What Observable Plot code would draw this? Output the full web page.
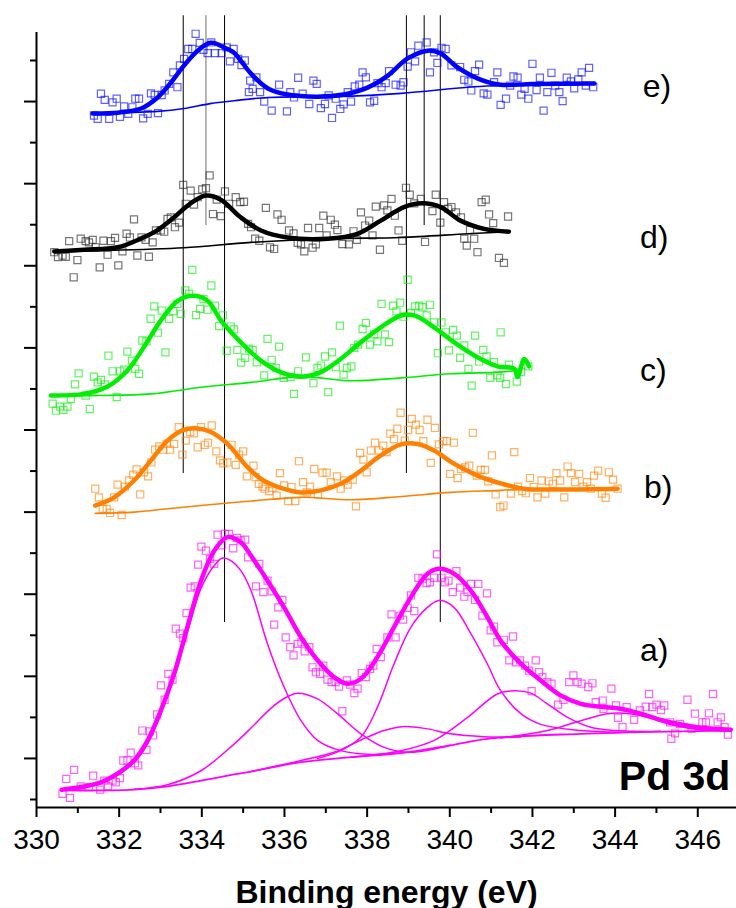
<!DOCTYPE html>
<html><head><meta charset="utf-8">
<script src="https://cdn.jsdelivr.net/npm/d3@7"></script>
<script src="https://cdn.jsdelivr.net/npm/@observablehq/plot@0.6"></script>
<style>html,body{margin:0;padding:0;background:#fff;}#chart{width:736px;height:908px;}</style>
</head><body><div id="chart"></div>
<script>
// ---------- axis ticks ----------
const xMajorTicks = [330, 332, 334, 336, 338, 340, 342, 344, 346];
const xMinorTicks = [331, 333, 335, 337, 339, 341, 343, 345];
const yMajorTicks = [1, 3, 5, 7, 9, 11, 13, 15, 17];
const yMinorTicks = [0, 2, 4, 6, 8, 10, 12, 14, 16, 18];

// ---------- peak reference lines (binding energy, lower end in intensity units) ----------
const peakEnergies = [333.55, 334.1, 334.55, 338.95, 339.38, 339.77];
const peakLineBottoms = [7.94, 13.98, 4.31, 7.94, 13.98, 4.31];
const peakLineTop = 19.09;

// ---------- series labels ----------
const seriesNames = ["a)", "b)", "c)", "d)", "e)"];
const labelEnergies = [344.6, 344.7, 344.6, 344.6, 344.67];
const labelLevels = [3.63, 7.6, 10.45, 13.69, 17.37];

// ---------- series e ----------
const ePoints = [[331.39,16.66],[331.48,16.58],[331.56,17.19],[331.65,17.04],[331.76,16.58],[331.84,16.98],[331.94,17.07],[332.02,16.63],[332.12,16.88],[332.22,16.70],[332.32,16.86],[332.39,17.07],[332.48,17.07],[332.58,16.59],[332.69,16.70],[332.77,17.20],[332.86,17.16],[332.94,16.72],[333.03,17.16],[333.10,17.27],[333.21,17.43],[333.31,17.71],[333.41,17.35],[333.47,17.88],[333.57,18.04],[333.67,18.28],[333.77,18.28],[333.85,18.65],[333.95,18.43],[334.04,18.26],[334.14,18.18],[334.23,18.44],[334.32,18.18],[334.48,18.18],[334.60,18.32],[334.68,17.98],[334.77,18.28],[334.88,18.04],[334.96,17.89],[335.04,18.00],[335.14,17.23],[335.17,17.51],[335.23,17.31],[335.32,17.59],[335.41,17.23],[335.51,17.00],[335.69,16.78],[335.87,17.41],[336.06,16.76],[336.14,17.23],[336.23,17.10],[336.33,17.58],[336.44,17.19],[336.60,16.94],[336.70,17.51],[336.78,17.43],[336.88,16.84],[336.98,16.94],[337.07,17.15],[337.15,16.60],[337.24,17.07],[337.35,16.82],[337.43,16.93],[337.53,17.23],[337.61,17.00],[337.70,17.37],[337.81,17.41],[337.89,17.71],[337.97,17.59],[338.07,16.98],[338.17,17.02],[338.25,17.45],[338.35,17.35],[338.45,17.45],[338.53,17.74],[338.69,17.41],[338.81,17.39],[338.88,17.47],[338.98,17.85],[339.06,18.20],[339.16,17.98],[339.24,18.36],[339.44,18.44],[339.52,17.71],[339.62,18.20],[339.70,17.94],[339.80,18.31],[339.90,18.28],[340.04,17.88],[340.25,17.84],[340.35,17.53],[340.45,17.49],[340.52,17.27],[340.61,17.74],[340.71,17.90],[340.82,17.20],[340.91,17.17],[341.07,17.47],[341.15,17.71],[341.23,16.92],[341.36,17.07],[341.46,17.39],[341.54,17.61],[341.64,17.58],[341.73,17.17],[341.81,17.31],[341.90,17.07],[342.00,17.92],[342.10,17.28],[342.18,17.58],[342.27,16.78],[342.36,17.23],[342.46,17.70],[342.55,17.39],[342.65,17.23],[342.73,17.01],[342.83,17.58],[342.93,17.49],[343.01,17.32],[343.11,17.54],[343.19,17.71],[343.29,17.39],[343.37,17.82],[343.47,17.35]];
const eFit = [[331.36,16.71],[331.97,16.73],[332.53,16.83],[332.93,17.10],[333.25,17.46],[333.57,17.88],[333.90,18.24],[334.22,18.43],[334.62,18.28],[334.78,18.19],[335.19,17.68],[335.60,17.32],[336.08,17.17],[336.80,17.12],[337.43,17.17],[338.01,17.34],[338.50,17.63],[338.98,18.05],[339.47,18.24],[339.78,18.17],[340.19,17.83],[340.68,17.56],[341.23,17.41],[342.00,17.43],[343.50,17.44]];
const eBase = [[331.36,16.71],[332.93,16.76],[333.57,16.83],[334.20,16.95],[334.78,17.02],[335.60,17.10],[337.20,17.12],[338.82,17.20],[340.43,17.35],[341.23,17.39],[342.50,17.43],[343.50,17.44]];

// ---------- series d ----------
const dPoints = [[330.43,13.33],[330.52,13.21],[330.63,13.25],[330.71,13.22],[330.79,13.60],[330.90,12.72],[330.99,13.14],[331.07,13.66],[331.19,13.60],[331.27,13.57],[331.36,13.63],[331.43,13.45],[331.53,12.96],[331.62,13.61],[331.72,13.27],[331.80,13.60],[331.90,13.68],[331.98,13.01],[332.08,13.35],[332.18,13.78],[332.26,13.69],[332.36,14.13],[332.44,13.25],[332.54,13.69],[332.64,13.63],[332.72,13.22],[332.81,13.57],[332.89,13.86],[333.01,13.86],[333.09,13.83],[333.17,14.14],[333.25,14.18],[333.35,13.94],[333.45,14.05],[333.55,14.97],[333.61,14.51],[333.73,14.83],[333.81,14.49],[333.90,14.67],[334.01,14.86],[334.10,14.89],[334.19,15.20],[334.27,14.26],[334.36,14.61],[334.46,14.21],[334.56,14.81],[334.66,14.51],[334.82,14.67],[334.93,14.55],[335.02,14.56],[335.12,14.02],[335.19,13.94],[335.29,13.66],[335.39,13.61],[335.55,14.41],[335.65,13.45],[335.75,13.41],[335.83,14.25],[335.93,14.12],[336.11,13.86],[336.22,13.79],[336.32,13.56],[336.40,13.52],[336.48,13.35],[336.57,13.92],[336.68,13.44],[336.76,13.52],[336.84,13.92],[336.94,14.22],[337.02,13.74],[337.12,14.12],[337.22,14.00],[337.28,13.87],[337.40,13.53],[337.56,13.52],[337.67,13.84],[337.75,13.63],[337.85,14.30],[337.95,13.98],[338.05,14.10],[338.13,13.74],[338.21,14.44],[338.31,13.39],[338.41,14.47],[338.49,14.35],[338.59,14.63],[338.67,14.22],[338.76,13.86],[338.85,13.61],[338.94,14.90],[339.03,14.73],[339.14,14.52],[339.30,14.63],[339.40,13.58],[339.58,14.33],[339.66,14.73],[339.77,14.05],[339.86,14.55],[339.96,14.39],[340.04,14.43],[340.15,14.30],[340.27,14.18],[340.35,13.66],[340.41,13.49],[340.49,13.87],[340.59,13.66],[340.67,13.33],[340.77,14.55],[340.87,14.61],[340.95,14.25],[341.05,14.04],[341.19,13.19],[341.31,13.07],[341.41,14.20]];
const dFit = [[330.43,13.35],[331.15,13.39],[331.96,13.45],[332.52,13.66],[332.93,13.87],[333.33,14.18],[333.73,14.52],[334.10,14.71],[334.46,14.61],[334.94,14.18],[335.43,13.86],[336.07,13.69],[337.04,13.66],[337.77,13.78],[338.33,14.10],[338.89,14.43],[339.34,14.52],[339.78,14.43],[340.26,14.10],[340.83,13.90],[341.43,13.83]];
const dBase = [[330.43,13.35],[331.56,13.37],[333.57,13.44],[335.19,13.57],[337.20,13.66],[338.81,13.69],[340.43,13.78],[341.43,13.83]];

// ---------- series c ----------
const cPoints = [[330.39,9.64],[330.47,9.47],[330.57,9.57],[330.65,9.49],[330.75,9.57],[330.83,9.76],[330.93,10.11],[331.02,10.38],[331.19,9.84],[331.29,9.51],[331.39,10.30],[331.48,10.16],[331.56,10.22],[331.65,10.11],[331.74,10.81],[331.84,10.43],[331.94,9.80],[332.02,10.43],[332.12,10.47],[332.20,10.91],[332.31,10.69],[332.39,10.49],[332.48,10.37],[332.56,11.18],[332.66,11.16],[332.76,11.71],[332.85,12.01],[332.94,11.37],[333.03,11.91],[333.12,10.89],[333.21,11.71],[333.31,11.89],[333.41,12.07],[333.49,11.83],[333.60,12.40],[333.69,12.32],[333.77,12.90],[333.86,11.80],[333.96,11.95],[334.04,12.19],[334.14,11.93],[334.23,12.52],[334.32,12.03],[334.42,11.53],[334.51,11.79],[334.60,10.93],[334.70,11.52],[334.78,11.45],[334.86,10.95],[334.95,10.64],[335.05,10.76],[335.14,10.98],[335.23,10.95],[335.33,10.65],[335.51,10.33],[335.59,11.22],[335.69,10.71],[335.79,10.51],[335.87,11.03],[335.98,10.27],[336.15,10.29],[336.23,9.88],[336.33,10.43],[336.52,10.77],[336.70,10.14],[336.80,10.51],[336.88,10.57],[336.98,10.79],[337.06,9.92],[337.15,10.89],[337.24,10.53],[337.34,11.54],[337.43,10.35],[337.51,10.51],[337.62,10.55],[337.69,11.00],[337.78,11.08],[337.89,11.46],[337.97,11.61],[338.07,11.08],[338.17,11.33],[338.25,11.16],[338.35,12.07],[338.43,11.33],[338.53,11.14],[338.63,12.03],[338.71,11.89],[338.80,12.10],[338.88,11.76],[338.98,12.66],[339.06,11.85],[339.16,12.01],[339.26,12.03],[339.34,11.99],[339.44,11.79],[339.52,12.05],[339.62,11.62],[339.71,10.87],[339.80,11.62],[339.90,11.38],[339.98,10.94],[340.08,11.44],[340.17,11.30],[340.25,10.76],[340.35,11.06],[340.45,10.49],[340.53,10.08],[340.61,11.30],[340.71,10.67],[340.81,10.95],[340.89,10.79],[340.98,10.27],[341.07,10.65],[341.15,10.33],[341.22,10.27],[341.23,11.38],[341.36,10.12],[341.43,10.59],[341.62,10.18],[341.72,10.41],[341.90,10.55]];
const cFit = [[330.35,9.84],[331.15,9.88],[331.72,10.06],[332.20,10.45],[332.60,11.02],[333.01,11.67],[333.41,12.14],[333.77,12.27],[334.14,12.15],[334.46,11.67],[334.94,11.14],[335.43,10.69],[335.91,10.41],[336.40,10.30],[336.88,10.41],[337.36,10.73],[337.85,11.14],[338.33,11.50],[338.82,11.79],[339.14,11.79],[339.62,11.50],[340.10,11.14],[340.67,10.77],[341.15,10.55],[341.56,10.49],[341.64,10.29],[341.80,10.73],[341.92,10.55]];
const cBase = [[330.35,9.84],[331.56,9.84],[332.77,9.88],[333.98,10.04],[335.19,10.16],[336.40,10.30],[337.61,10.20],[338.82,10.27],[340.02,10.37],[341.23,10.41],[341.64,10.45]];

// ---------- series b ----------
const bPoints = [[331.42,7.57],[331.51,7.36],[331.60,7.08],[331.70,7.08],[331.78,6.98],[331.88,7.36],[331.96,7.67],[332.06,6.93],[332.14,7.62],[332.24,7.77],[332.34,7.91],[332.42,8.04],[332.51,7.43],[332.60,7.97],[332.70,7.87],[332.78,8.21],[332.87,8.52],[332.97,8.60],[333.07,8.52],[333.15,8.66],[333.23,8.52],[333.33,8.66],[333.44,9.07],[333.53,8.40],[333.61,8.74],[333.72,8.95],[333.81,8.92],[333.90,8.58],[333.98,9.07],[334.07,8.64],[334.15,8.69],[334.24,9.11],[334.35,8.48],[334.44,8.26],[334.52,8.19],[334.62,8.21],[334.72,8.64],[334.82,8.15],[334.90,8.40],[335.00,8.48],[335.09,7.87],[335.25,8.13],[335.30,7.85],[335.38,7.69],[335.47,7.62],[335.52,7.57],[335.63,7.51],[335.71,7.59],[335.81,7.40],[335.89,7.95],[335.99,7.65],[336.09,7.27],[336.17,7.61],[336.26,7.27],[336.35,8.24],[336.45,7.73],[336.54,7.48],[336.62,7.62],[336.72,8.05],[336.81,7.43],[336.92,7.96],[337.02,7.96],[337.12,7.73],[337.27,7.87],[337.36,7.57],[337.44,7.77],[337.53,7.67],[337.65,7.79],[337.73,7.14],[337.83,8.44],[337.91,8.28],[337.99,7.97],[338.09,8.50],[338.19,8.69],[338.29,8.50],[338.39,8.62],[338.47,8.46],[338.56,8.91],[338.65,8.78],[338.73,9.03],[338.81,9.42],[338.91,8.74],[338.99,9.00],[339.08,9.27],[339.18,9.13],[339.27,9.00],[339.36,8.73],[339.46,9.25],[339.54,8.20],[339.64,9.05],[339.74,8.65],[339.84,8.73],[339.93,8.73],[340.01,7.93],[340.10,8.69],[340.19,7.83],[340.27,8.05],[340.37,8.09],[340.47,8.13],[340.56,8.93],[340.65,7.89],[340.75,8.03],[340.85,8.03],[340.93,7.75],[341.02,8.38],[341.11,7.43],[341.22,7.12],[341.30,7.16],[341.48,7.45],[341.56,8.46],[341.65,7.62],[341.75,7.51],[341.84,7.46],[341.94,7.83],[342.03,7.61],[342.12,7.36],[342.22,7.77],[342.31,7.45],[342.40,7.75],[342.49,7.69],[342.58,7.95],[342.67,7.77],[342.77,7.36],[342.85,8.11],[342.93,7.95],[343.03,7.73],[343.13,7.93],[343.23,7.62],[343.32,7.73],[343.41,7.57],[343.49,7.89],[343.59,8.01],[343.68,7.45],[343.77,7.35],[343.85,7.97],[343.95,7.79],[344.06,7.57]];
const bFit = [[331.42,7.16],[331.88,7.36],[332.36,7.77],[332.77,8.26],[333.17,8.74],[333.53,8.99],[333.85,9.04],[334.22,8.95],[334.62,8.66],[335.11,8.09],[335.43,7.81],[335.91,7.59],[336.40,7.48],[336.88,7.53],[337.36,7.69],[337.85,8.01],[338.33,8.38],[338.82,8.65],[339.22,8.66],[339.62,8.50],[340.10,8.18],[340.67,7.89],[341.23,7.70],[341.79,7.57],[342.69,7.55],[344.06,7.57]];
const bBase = [[331.42,6.97],[332.36,7.00],[333.17,7.08],[333.98,7.16],[335.19,7.27],[336.40,7.36],[337.61,7.30],[338.82,7.38],[340.02,7.48],[341.23,7.53],[341.79,7.56],[344.06,7.57]];

// ---------- series a ----------
const aPoints = [[330.63,0.14],[330.72,0.50],[330.81,0.04],[330.91,0.72],[331.07,0.32],[331.27,0.30],[331.37,0.58],[331.54,0.24],[331.64,0.46],[331.73,0.32],[331.84,0.46],[331.92,0.42],[332.02,0.52],[332.10,0.95],[332.20,0.95],[332.28,1.14],[332.38,0.88],[332.46,0.83],[332.56,1.68],[332.66,1.21],[332.74,1.66],[332.82,1.56],[332.92,2.07],[333.01,2.78],[333.10,2.43],[333.19,3.06],[333.29,2.92],[333.37,4.16],[333.47,4.04],[333.55,3.93],[333.63,4.54],[333.73,5.16],[333.83,5.19],[333.91,5.72],[333.99,6.16],[334.10,6.06],[334.20,5.86],[334.30,5.74],[334.38,6.45],[334.48,6.19],[334.56,6.47],[334.66,6.47],[334.76,6.12],[334.85,6.37],[334.94,6.31],[335.05,6.33],[335.12,5.90],[335.31,5.19],[335.39,5.74],[335.49,5.05],[335.59,5.33],[335.69,5.07],[335.75,4.26],[335.85,4.68],[335.95,4.86],[336.03,3.95],[336.14,3.71],[336.22,3.51],[336.32,3.79],[336.41,3.83],[336.49,3.61],[336.60,3.71],[336.68,3.22],[336.76,3.10],[336.86,3.06],[336.94,3.26],[337.04,2.92],[337.14,2.86],[337.24,2.86],[337.32,2.75],[337.40,2.15],[337.51,2.90],[337.59,2.80],[337.69,2.59],[337.77,2.70],[337.87,3.08],[337.97,2.98],[338.07,3.18],[338.15,3.26],[338.23,3.67],[338.33,3.47],[338.49,3.95],[338.59,4.51],[338.69,3.95],[338.79,4.48],[338.87,4.38],[338.98,4.67],[339.06,4.97],[339.14,4.59],[339.24,5.40],[339.34,5.38],[339.44,5.27],[339.52,5.29],[339.62,5.40],[339.69,5.97],[339.80,5.40],[339.88,5.29],[339.97,5.33],[340.07,5.05],[340.16,5.56],[340.25,5.16],[340.35,4.94],[340.43,5.05],[340.51,5.25],[340.61,4.86],[340.69,5.25],[340.79,4.48],[340.90,5.02],[340.99,4.12],[341.07,4.21],[341.15,3.83],[341.31,3.89],[341.44,3.39],[341.53,3.97],[341.60,3.34],[341.70,3.39],[341.82,3.26],[341.92,3.14],[341.98,2.64],[342.08,3.39],[342.16,3.10],[342.24,2.98],[342.36,2.86],[342.46,2.82],[342.62,2.31],[342.75,2.43],[342.89,2.86],[342.99,3.02],[343.09,2.86],[343.19,2.82],[343.35,2.74],[343.45,2.83],[343.53,2.37],[343.70,2.41],[343.72,2.21],[343.91,2.70],[344.02,2.29],[344.07,1.99],[344.18,1.76],[344.28,2.25],[344.46,1.94],[344.60,2.17],[344.74,2.26],[344.82,2.57],[344.90,2.25],[345.00,2.31],[345.11,2.18],[345.19,2.29],[345.33,1.88],[345.36,1.48],[345.45,1.61],[345.57,1.84],[345.75,2.43],[345.85,1.72],[345.93,2.09],[346.11,1.88],[346.20,1.88],[346.27,2.10],[346.37,2.57],[346.48,1.88],[346.56,2.00],[346.65,1.76],[346.73,1.58]];
const aEnvelope = [[330.61,0.24],[331.15,0.32],[331.56,0.42],[331.96,0.63],[332.36,0.95],[332.69,1.44],[333.01,2.17],[333.33,3.06],[333.65,4.20],[333.98,5.33],[334.30,6.06],[334.62,6.39],[334.94,6.27],[335.19,5.94],[335.59,5.33],[335.99,4.68],[336.40,3.95],[336.80,3.39],[337.20,2.98],[337.52,2.82],[337.85,2.94],[338.25,3.47],[338.65,4.20],[339.06,4.93],[339.46,5.50],[339.74,5.62],[340.10,5.50],[340.51,5.09],[340.91,4.44],[341.23,3.87],[341.72,3.31],[342.20,2.90],[342.69,2.53],[343.17,2.33],[343.65,2.26],[344.14,2.21],[344.62,2.09],[345.10,1.94],[345.59,1.83],[346.07,1.75],[346.80,1.70]];
const aBaseline = [[330.61,0.22],[332.36,0.24],[333.17,0.32],[333.98,0.46],[334.78,0.61],[335.19,0.68],[336.40,0.91],[337.61,1.03],[338.82,1.13],[340.02,1.32],[340.99,1.49],[343.17,1.60],[345.59,1.66],[346.80,1.68]];
const aPeak1 = [[330.61,0.22],[331.56,0.39],[332.36,0.90],[332.69,1.36],[333.01,2.09],[333.33,2.97],[333.65,4.07],[333.98,5.14],[334.30,5.70],[334.50,5.88],[334.70,5.82],[334.94,5.58],[335.19,5.09],[335.59,3.79],[335.99,2.74],[336.40,1.92],[336.80,1.44],[337.36,1.19],[338.01,1.10],[338.82,1.13]];
const aPeak2 = [[332.36,0.25],[333.17,0.36],[333.98,0.70],[334.78,1.35],[335.19,1.74],[335.67,2.22],[335.99,2.46],[336.32,2.59],[336.80,2.45],[337.28,2.09],[337.85,1.60],[338.41,1.27],[339.06,1.15],[340.02,1.32]];
const aPeak3 = [[336.80,1.00],[337.36,1.19],[337.85,1.52],[338.25,2.25],[338.65,3.30],[339.06,4.20],[339.46,4.68],[339.74,4.85],[340.10,4.68],[340.51,4.04],[340.91,3.30],[341.23,2.65],[341.72,2.09],[342.20,1.83],[343.17,1.68],[344.14,1.64]];
const aPeak4 = [[335.19,0.68],[336.40,0.95],[337.20,1.15],[337.85,1.45],[338.41,1.68],[338.89,1.78],[339.46,1.72],[340.02,1.60],[340.83,1.53],[341.72,1.52]];
const aPeak5 = [[337.61,1.03],[338.82,1.19],[339.62,1.44],[340.43,2.00],[341.15,2.57],[341.56,2.65],[341.96,2.59],[342.36,2.33],[342.85,2.00],[343.41,1.76],[343.98,1.68],[345.10,1.66]];
const aPeak6 = [[341.23,1.50],[342.36,1.68],[343.17,1.92],[343.82,2.09],[344.22,2.10],[344.78,2.00],[345.43,1.80],[346.07,1.70],[346.80,1.68]];

// ---------- styling ----------
const colA = "#ff00ff", colB = "#ff8000", colC = "#00ee00", colD = "#000000", colE = "#0000ff";
const X = d => d[0], Y = d => d[1];
const yBottom = -0.195, yTop = 18.68;

function pts(data, color) {
  return Plot.dot(data, {x: X, y: Y, symbol: "square", r: 4, fill: "none", stroke: color, strokeOpacity: 0.62, strokeWidth: 1.2});
}
function ln(data, color, w) {
  return Plot.line(data, {x: X, y: Y, stroke: color, strokeWidth: w, curve: "catmull-rom"});
}

const ruleData = peakEnergies.map((x, i) => ({x, y1: peakLineBottoms[i], y2: peakLineTop, grey: i === 1}));
const labelData = seriesNames.map((t, i) => ({t, x: labelEnergies[i], y: labelLevels[i]}));

const chart = Plot.plot({
  width: 736,
  height: 908,
  marginLeft: 36,
  marginRight: 0,
  marginTop: 32,
  marginBottom: 101,
  style: {fontFamily: '"Liberation Sans", Arial, Helvetica, sans-serif', background: "#fff", color: "#000", overflow: "visible"},
  x: {domain: [330, 347], range: [36, 738.6]},
  y: {domain: [0, 18], range: [799, 60]},
  marks: [
    Plot.ruleX(ruleData, {x: "x", y1: "y1", y2: "y2", stroke: d => d.grey ? "#6e6e6e" : "#000", strokeWidth: 1}),
    pts(ePoints, colE), pts(dPoints, "#222"), pts(cPoints, colC), pts(bPoints, colB), pts(aPoints, colA),
    ln(eBase, colE, 1.6), ln(dBase, colD, 1.6), ln(cBase, colC, 1.6), ln(bBase, colB, 1.6),
    ln(aBaseline, colA, 1.8),
    ln(aPeak1, colA, 1.5), ln(aPeak2, colA, 1.5), ln(aPeak3, colA, 1.5),
    ln(aPeak4, colA, 1.5), ln(aPeak5, colA, 1.5), ln(aPeak6, colA, 1.5),
    ln(eFit, colE, 4.5), ln(dFit, colD, 4.5), ln(cFit, colC, 4.5), ln(bFit, colB, 4.5), ln(aEnvelope, colA, 4.5),
    Plot.ruleX([330], {y1: yBottom, y2: yTop, strokeWidth: 2}),
    Plot.ruleY([yBottom], {x1: 330, x2: 347, strokeWidth: 2}),
    Plot.axisY(yMajorTicks, {anchor: "left", tickSize: 12, strokeWidth: 2, fill: "none", label: null}),
    Plot.axisY(yMinorTicks, {anchor: "left", tickSize: 6, strokeWidth: 2, fill: "none", label: null}),
    Plot.axisX(xMajorTicks, {anchor: "bottom", tickSize: 10, tickPadding: 12, strokeWidth: 2, fontSize: 28, tickFormat: d => String(d), label: null}),
    Plot.axisX(xMinorTicks, {anchor: "bottom", tickSize: 6, strokeWidth: 2, fill: "none", label: null}),
    Plot.text(labelData, {x: "x", y: "y", text: "t", textAnchor: "start", lineAnchor: "middle", fontSize: 32, fill: "#000"}),
    Plot.text(["Pd 3d"], {x: 346.79, y: 0.56, textAnchor: "end", lineAnchor: "middle", fontSize: 41, fontWeight: "bold", fill: "#000"}),
    Plot.text(["Binding energy (eV)"], {frameAnchor: "bottom", dy: 85, lineAnchor: "middle", fontSize: 32, fontWeight: "bold", fill: "#000"})
  ]
});
document.getElementById("chart").appendChild(chart);
</script>
</body></html>
